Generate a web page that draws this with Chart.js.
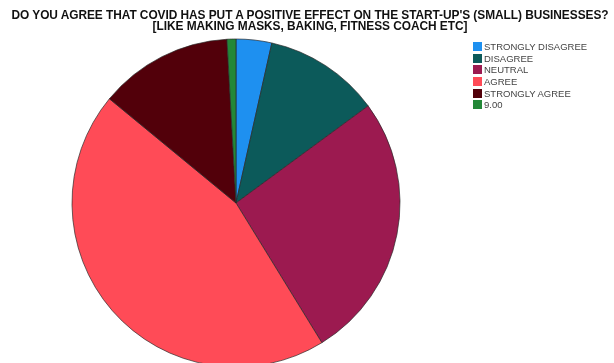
<!DOCTYPE html>
<html>
<head>
<meta charset="utf-8">
<script src="https://cdn.jsdelivr.net/npm/chart.js@4"></script>
<style>
  html, body { margin: 0; padding: 0; background: #fff; overflow: hidden; }
  #wrap { position: relative; width: 614px; height: 363px; overflow: hidden; }
  #pie { position: absolute; left: 0; top: 0; }
  #title {
    position: absolute; left: 3px; top: 10px; width: 614px; text-align: center;
    font: bold 11.9px "Liberation Sans", Arial, sans-serif; line-height: 11px;
    color: #111; letter-spacing: -0.05px; white-space: nowrap;
  }
  #legend { position: absolute; left: 473px; top: 42px; font: 9.5px "Liberation Sans", Arial, sans-serif; color: #444; }
  #legend div { height: 11.7px; line-height: 9px; white-space: nowrap; }
  #legend span { display: inline-block; width: 9px; height: 9px; vertical-align: top; margin-right: 2px; }
</style>
</head>
<body>
<div id="wrap">
  <canvas id="pie" width="614" height="400"></canvas>
  <div id="title"></div>
  <div id="legend"></div>
</div>
<script>
const titleLines = [
  "DO YOU AGREE THAT COVID HAS PUT A POSITIVE EFFECT ON THE START-UP'S (SMALL) BUSINESSES?",
  '[LIKE MAKING MASKS, BAKING, FITNESS COACH ETC]'
];
const labels = ['STRONGLY DISAGREE', 'DISAGREE', 'NEUTRAL', 'AGREE', 'STRONGLY AGREE', '9.00'];
const counts = [4, 13, 30, 51, 15, 1];
const colors = ['#1e90f0', '#0c5a5a', '#9c1a50', '#ff4b57', '#52000a', '#238838'];

document.getElementById('title').innerHTML = titleLines.join('<br>');

let ctx = document.getElementById('pie');
const chart = new Chart(ctx, {
  type: 'pie',
  data: {
    labels: labels,
    datasets: [
      {
        data: counts,
        backgroundColor: colors,
        borderColor: 'rgba(40, 40, 40, 0.85)',
        borderWidth: 0.8,
        radius: 164,
      },
    ],
  },
  options: {
    responsive: false,
    animation: false,
    layout: { padding: { left: 71, right: 213, top: 38, bottom: 32 } },
    plugins: {
      legend: { display: false },
      title: { display: false },
      tooltip: { enabled: false },
    },
  },
});

// legend rows from the same labels/colors
let legend = document.getElementById('legend');
labels.forEach((label, i) => {
  let row = document.createElement('div');
  row.innerHTML = '<span style="background:' + colors[i] + '"></span>' + label;
  legend.appendChild(row);
});
</script>
</body>
</html>
